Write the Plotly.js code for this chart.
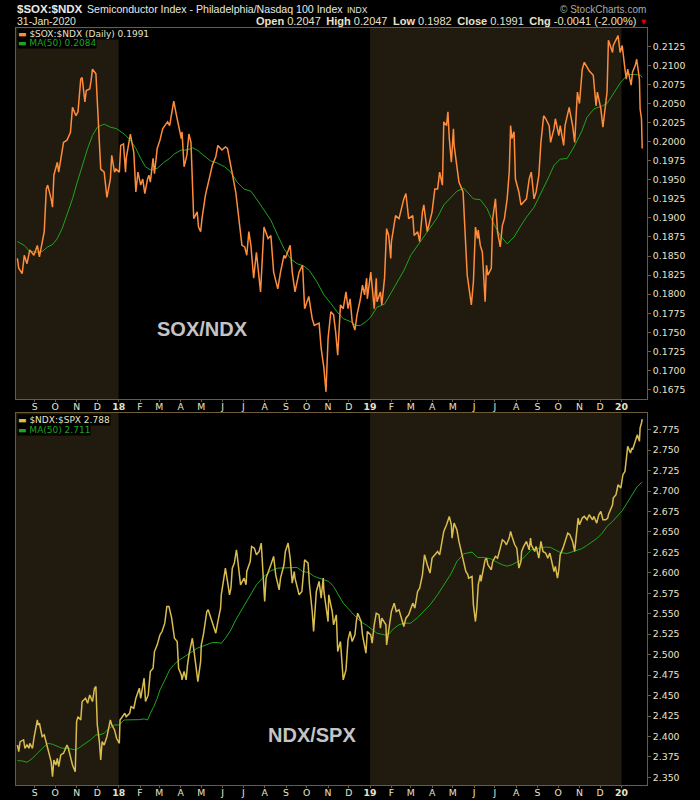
<!DOCTYPE html>
<html>
<head>
<meta charset="utf-8">
<script src="https://cdn.plot.ly/plotly-3.0.1.min.js"></script>
<style>html,body{margin:0;padding:0;background:#000;}#chart{width:700px;height:800px;}</style>
</head>
<body>
<div id="chart"></div>
<script>
// ---------------- DATA ----------------
const soxNdxDates = ["2017-08-07","2017-08-09","2017-08-14","2017-08-17","2017-08-21","2017-08-25","2017-08-31","2017-09-05","2017-09-08","2017-09-12","2017-09-15","2017-09-18","2017-09-20","2017-09-25","2017-09-27","2017-09-29","2017-10-04","2017-10-06","2017-10-09","2017-10-13","2017-10-18","2017-10-23","2017-10-26","2017-10-31","2017-11-03","2017-11-07","2017-11-09","2017-11-13","2017-11-15","2017-11-20","2017-11-22","2017-11-24","2017-11-29","2017-12-01","2017-12-04","2017-12-06","2017-12-11","2017-12-13","2017-12-15","2017-12-20","2017-12-22","2017-12-26","2017-12-28","2018-01-02","2018-01-04","2018-01-08","2018-01-11","2018-01-12","2018-01-18","2018-01-23","2018-01-26","2018-01-29","2018-02-02","2018-02-05","2018-02-08","2018-02-12","2018-02-14","2018-02-16","2018-02-20","2018-02-22","2018-02-26","2018-03-02","2018-03-06","2018-03-09","2018-03-13","2018-03-16","2018-03-22","2018-03-26","2018-03-29","2018-04-02","2018-04-03","2018-04-06","2018-04-10","2018-04-13","2018-04-16","2018-04-20","2018-04-25","2018-04-27","2018-04-30","2018-05-02","2018-05-07","2018-05-11","2018-05-17","2018-05-22","2018-05-25","2018-05-31","2018-06-05","2018-06-08","2018-06-12","2018-06-15","2018-06-20","2018-06-22","2018-06-26","2018-06-29","2018-07-03","2018-07-06","2018-07-09","2018-07-12","2018-07-16","2018-07-19","2018-07-20","2018-07-26","2018-07-30","2018-07-31","2018-08-06","2018-08-10","2018-08-14","2018-08-20","2018-08-24","2018-08-29","2018-08-31","2018-09-07","2018-09-10","2018-09-14","2018-09-20","2018-09-25","2018-09-28","2018-10-04","2018-10-09","2018-10-12","2018-10-19","2018-10-22","2018-10-26","2018-10-29","2018-11-01","2018-11-05","2018-11-09","2018-11-12","2018-11-15","2018-11-19","2018-11-23","2018-11-27","2018-11-30","2018-12-03","2018-12-06","2018-12-10","2018-12-13","2018-12-18","2018-12-21","2018-12-24","2018-12-27","2018-12-28","2019-01-02","2019-01-07","2019-01-10","2019-01-11","2019-01-16","2019-01-18","2019-01-22","2019-01-25","2019-01-28","2019-01-31","2019-02-01","2019-02-05","2019-02-07","2019-02-12","2019-02-15","2019-02-19","2019-02-22","2019-02-26","2019-03-04","2019-03-06","2019-03-11","2019-03-14","2019-03-18","2019-03-20","2019-03-25","2019-03-29","2019-04-01","2019-04-05","2019-04-09","2019-04-12","2019-04-16","2019-04-18","2019-04-22","2019-04-24","2019-04-26","2019-04-29","2019-05-02","2019-05-03","2019-05-07","2019-05-10","2019-05-16","2019-05-20","2019-05-22","2019-05-28","2019-05-31","2019-06-03","2019-06-06","2019-06-07","2019-06-10","2019-06-13","2019-06-17","2019-06-19","2019-06-21","2019-06-26","2019-06-28","2019-07-02","2019-07-05","2019-07-09","2019-07-12","2019-07-15","2019-07-19","2019-07-22","2019-07-24","2019-07-26","2019-07-29","2019-07-31","2019-08-05","2019-08-08","2019-08-12","2019-08-16","2019-08-20","2019-08-23","2019-08-27","2019-08-30","2019-09-03","2019-09-06","2019-09-10","2019-09-13","2019-09-18","2019-09-20","2019-09-25","2019-09-27","2019-10-02","2019-10-04","2019-10-09","2019-10-11","2019-10-17","2019-10-22","2019-10-25","2019-10-29","2019-11-01","2019-11-05","2019-11-08","2019-11-12","2019-11-15","2019-11-21","2019-11-25","2019-11-27","2019-12-02","2019-12-05","2019-12-09","2019-12-11","2019-12-13","2019-12-19","2019-12-20","2019-12-27","2019-12-30","2020-01-02","2020-01-06","2020-01-08","2020-01-10","2020-01-15","2020-01-17","2020-01-21","2020-01-23","2020-01-27","2020-01-28","2020-01-30","2020-01-31"];
const soxNdxValues = [0.1847,0.1834,0.1827,0.1851,0.1840,0.1858,0.1851,0.1864,0.1849,0.1866,0.1882,0.1938,0.1943,0.1925,0.1914,0.1956,0.1973,0.1960,0.1978,0.1999,0.2002,0.2012,0.2045,0.2034,0.2039,0.2082,0.2084,0.2052,0.2067,0.2069,0.2080,0.2095,0.2089,0.2056,0.2004,0.1964,0.1960,0.1947,0.1927,0.1951,0.1982,0.1960,0.1964,0.1960,0.1995,0.1997,0.1960,0.1978,0.2010,0.1986,0.1934,0.1960,0.1943,0.1951,0.1932,0.1951,0.1956,0.1947,0.1978,0.1958,0.1991,0.2002,0.2017,0.2021,0.2026,0.2021,0.2053,0.2034,0.2021,0.2004,0.2013,0.1967,0.1982,0.2010,0.1999,0.1899,0.1908,0.1888,0.1882,0.1899,0.1930,0.1947,0.1969,0.1980,0.1995,0.1989,0.1993,0.1991,0.1969,0.1958,0.1934,0.1917,0.1886,0.1864,0.1862,0.1851,0.1882,0.1864,0.1821,0.1847,0.1855,0.1803,0.1873,0.1888,0.1873,0.1877,0.1829,0.1807,0.1829,0.1851,0.1847,0.1864,0.1829,0.1803,0.1829,0.1838,0.1781,0.1797,0.1768,0.1759,0.1762,0.1729,0.1703,0.1672,0.1742,0.1777,0.1773,0.1751,0.1720,0.1786,0.1781,0.1803,0.1781,0.1794,0.1764,0.1753,0.1773,0.1794,0.1812,0.1799,0.1821,0.1794,0.1829,0.1781,0.1821,0.1790,0.1803,0.1786,0.1821,0.1886,0.1877,0.1847,0.1869,0.1890,0.1903,0.1899,0.1912,0.1925,0.1932,0.1899,0.1903,0.1877,0.1882,0.1869,0.1908,0.1917,0.1882,0.1899,0.1908,0.1938,0.1938,0.1960,0.1943,0.2026,0.2021,0.2039,0.2004,0.1973,0.2017,0.1995,0.1969,0.1947,0.1934,0.1847,0.1825,0.1786,0.1816,0.1888,0.1873,0.1884,0.1864,0.1855,0.1790,0.1838,0.1825,0.1834,0.1899,0.1925,0.1882,0.1862,0.1890,0.1899,0.1925,0.1960,0.2021,0.2004,0.2013,0.1951,0.1934,0.1917,0.1921,0.1925,0.1951,0.1960,0.1925,0.1934,0.1956,0.1999,0.2034,0.2030,0.2021,0.1999,0.2017,0.2030,0.2008,0.2021,0.1995,0.2021,0.2045,0.2021,0.1999,0.2065,0.2050,0.2095,0.2104,0.2098,0.2093,0.2087,0.2047,0.2065,0.2043,0.2019,0.2056,0.2065,0.2133,0.2117,0.2126,0.2139,0.2117,0.2126,0.2095,0.2082,0.2095,0.2074,0.2091,0.2100,0.2108,0.2082,0.2043,0.2030,0.1991];

const soxMaDates = ["2017-08-07","2017-08-17","2017-08-25","2017-09-05","2017-09-12","2017-09-20","2017-09-27","2017-10-04","2017-10-11","2017-10-18","2017-10-26","2017-11-02","2017-11-09","2017-11-17","2017-11-24","2017-12-01","2017-12-11","2017-12-20","2017-12-29","2018-01-09","2018-01-18","2018-01-26","2018-02-02","2018-02-09","2018-02-16","2018-02-26","2018-03-08","2018-03-16","2018-03-23","2018-04-02","2018-04-11","2018-04-18","2018-04-25","2018-05-04","2018-05-14","2018-05-24","2018-06-04","2018-06-13","2018-06-22","2018-07-02","2018-07-12","2018-07-20","2018-07-31","2018-08-10","2018-08-20","2018-08-29","2018-09-07","2018-09-17","2018-09-27","2018-10-05","2018-10-16","2018-10-26","2018-11-05","2018-11-14","2018-11-23","2018-12-04","2018-12-11","2018-12-18","2018-12-26","2019-01-02","2019-01-11","2019-01-22","2019-01-31","2019-02-08","2019-02-19","2019-03-01","2019-03-11","2019-03-20","2019-03-29","2019-04-09","2019-04-18","2019-04-29","2019-05-07","2019-05-17","2019-05-22","2019-05-31","2019-06-10","2019-06-20","2019-06-28","2019-07-09","2019-07-19","2019-07-29","2019-08-08","2019-08-16","2019-08-27","2019-09-06","2019-09-16","2019-09-25","2019-10-04","2019-10-14","2019-10-24","2019-11-04","2019-11-12","2019-11-22","2019-12-02","2019-12-11","2019-12-20","2019-12-31","2020-01-10","2020-01-14","2020-01-21","2020-01-29","2020-01-31"];
const soxMaValues = [0.1869,0.1864,0.1856,0.1855,0.1856,0.1862,0.1865,0.1873,0.1886,0.1903,0.1925,0.1947,0.1969,0.1991,0.2008,0.2019,0.2023,0.2019,0.2017,0.2010,0.2002,0.1991,0.1978,0.1967,0.1963,0.1965,0.1973,0.1978,0.1984,0.1989,0.1989,0.1992,0.1989,0.1982,0.1975,0.1972,0.1967,0.1960,0.1947,0.1938,0.1935,0.1925,0.1910,0.1897,0.1877,0.1860,0.1847,0.1840,0.1837,0.1831,0.1816,0.1799,0.1788,0.1777,0.1768,0.1764,0.1759,0.1759,0.1764,0.1770,0.1783,0.1787,0.1801,0.1814,0.1831,0.1851,0.1864,0.1875,0.1886,0.1901,0.1917,0.1927,0.1935,0.1939,0.1934,0.1925,0.1924,0.1912,0.1895,0.1877,0.1866,0.1875,0.1890,0.1901,0.1914,0.1932,0.1951,0.1969,0.1977,0.1978,0.1993,0.2013,0.2032,0.2043,0.2046,0.2050,0.2063,0.2078,0.2088,0.2088,0.2088,0.2087,0.2084];

const ndxSpxDates = ["2017-08-07","2017-08-09","2017-08-11","2017-08-16","2017-08-18","2017-08-21","2017-08-24","2017-08-25","2017-08-29","2017-08-31","2017-09-05","2017-09-06","2017-09-08","2017-09-12","2017-09-15","2017-09-19","2017-09-22","2017-09-25","2017-09-27","2017-09-29","2017-10-02","2017-10-04","2017-10-06","2017-10-09","2017-10-13","2017-10-18","2017-10-20","2017-10-23","2017-10-26","2017-10-30","2017-11-01","2017-11-03","2017-11-07","2017-11-09","2017-11-14","2017-11-17","2017-11-20","2017-11-24","2017-11-27","2017-11-29","2017-12-01","2017-12-04","2017-12-06","2017-12-08","2017-12-11","2017-12-15","2017-12-18","2017-12-20","2017-12-22","2017-12-26","2017-12-29","2018-01-02","2018-01-03","2018-01-05","2018-01-10","2018-01-12","2018-01-17","2018-01-19","2018-01-23","2018-01-26","2018-01-31","2018-02-02","2018-02-07","2018-02-09","2018-02-13","2018-02-16","2018-02-20","2018-02-22","2018-02-26","2018-03-02","2018-03-05","2018-03-09","2018-03-12","2018-03-15","2018-03-19","2018-03-21","2018-03-23","2018-03-27","2018-03-29","2018-04-02","2018-04-03","2018-04-06","2018-04-09","2018-04-11","2018-04-13","2018-04-18","2018-04-20","2018-04-23","2018-04-26","2018-04-30","2018-05-01","2018-05-04","2018-05-09","2018-05-11","2018-05-15","2018-05-18","2018-05-22","2018-05-25","2018-05-29","2018-05-30","2018-06-01","2018-06-05","2018-06-08","2018-06-11","2018-06-13","2018-06-15","2018-06-18","2018-06-21","2018-06-22","2018-06-26","2018-06-27","2018-07-02","2018-07-05","2018-07-06","2018-07-11","2018-07-13","2018-07-17","2018-07-20","2018-07-24","2018-07-27","2018-07-30","2018-08-01","2018-08-03","2018-08-07","2018-08-10","2018-08-14","2018-08-17","2018-08-22","2018-08-24","2018-08-29","2018-08-31","2018-09-04","2018-09-07","2018-09-10","2018-09-13","2018-09-14","2018-09-20","2018-09-24","2018-09-26","2018-09-28","2018-10-03","2018-10-05","2018-10-09","2018-10-11","2018-10-15","2018-10-19","2018-10-22","2018-10-25","2018-10-26","2018-11-01","2018-11-02","2018-11-07","2018-11-09","2018-11-13","2018-11-15","2018-11-19","2018-11-23","2018-11-27","2018-11-30","2018-12-03","2018-12-06","2018-12-10","2018-12-12","2018-12-14","2018-12-19","2018-12-21","2018-12-26","2018-12-28","2019-01-02","2019-01-04","2019-01-07","2019-01-10","2019-01-14","2019-01-16","2019-01-18","2019-01-24","2019-01-25","2019-01-30","2019-02-01","2019-02-05","2019-02-08","2019-02-12","2019-02-15","2019-02-19","2019-02-22","2019-02-26","2019-03-04","2019-03-07","2019-03-11","2019-03-14","2019-03-18","2019-03-21","2019-03-25","2019-03-29","2019-04-01","2019-04-05","2019-04-09","2019-04-12","2019-04-16","2019-04-18","2019-04-22","2019-04-26","2019-04-29","2019-04-30","2019-05-03","2019-05-07","2019-05-10","2019-05-13","2019-05-16","2019-05-20","2019-05-23","2019-05-24","2019-05-29","2019-05-31","2019-06-03","2019-06-05","2019-06-07","2019-06-10","2019-06-11","2019-06-14","2019-06-17","2019-06-19","2019-06-21","2019-06-26","2019-06-28","2019-07-02","2019-07-05","2019-07-09","2019-07-12","2019-07-15","2019-07-18","2019-07-22","2019-07-24","2019-07-26","2019-07-30","2019-08-02","2019-08-05","2019-08-08","2019-08-09","2019-08-12","2019-08-16","2019-08-20","2019-08-22","2019-08-23","2019-08-28","2019-08-30","2019-09-03","2019-09-06","2019-09-09","2019-09-13","2019-09-16","2019-09-19","2019-09-23","2019-09-25","2019-09-27","2019-09-30","2019-10-02","2019-10-04","2019-10-08","2019-10-11","2019-10-15","2019-10-18","2019-10-22","2019-10-25","2019-10-28","2019-10-30","2019-11-01","2019-11-05","2019-11-08","2019-11-12","2019-11-15","2019-11-20","2019-11-22","2019-11-26","2019-11-29","2019-12-02","2019-12-05","2019-12-09","2019-12-12","2019-12-13","2019-12-19","2019-12-20","2019-12-24","2019-12-27","2019-12-31","2020-01-03","2020-01-06","2020-01-08","2020-01-10","2020-01-14","2020-01-16","2020-01-17","2020-01-21","2020-01-24","2020-01-27","2020-01-28","2020-01-30","2020-01-31"];
const ndxSpxValues = [2.3896,2.3815,2.3937,2.3958,2.3856,2.3896,2.3856,2.3917,2.3856,2.3978,2.4202,2.4141,2.4162,2.3998,2.4019,2.3896,2.3774,2.3692,2.3509,2.3713,2.3652,2.3733,2.3631,2.3774,2.3795,2.3896,2.3856,2.3754,2.3652,2.3570,2.4182,2.4243,2.4202,2.4427,2.4467,2.4406,2.4508,2.4427,2.4590,2.4610,2.4141,2.3937,2.3713,2.3937,2.3896,2.3998,2.4100,2.4202,2.4141,2.4080,2.3978,2.3917,2.4202,2.4223,2.4284,2.4243,2.4284,2.4365,2.4345,2.4467,2.4590,2.4467,2.4712,2.4427,2.4508,2.4794,2.4834,2.5038,2.5120,2.5242,2.5283,2.5385,2.5589,2.5589,2.5446,2.5324,2.5201,2.5161,2.4834,2.4753,2.4692,2.4794,2.4692,2.4875,2.4997,2.5201,2.5038,2.4875,2.4671,2.4916,2.5120,2.5242,2.5528,2.5548,2.5446,2.5365,2.5263,2.5405,2.5569,2.5732,2.5834,2.6058,2.5895,2.5732,2.5813,2.6058,2.6119,2.6282,2.6221,2.5895,2.5854,2.5936,2.5854,2.6017,2.6139,2.6323,2.6302,2.6221,2.6262,2.6364,2.5936,2.5650,2.5936,2.6017,2.6099,2.6201,2.5976,2.5793,2.5936,2.6099,2.6262,2.6364,2.6180,2.5874,2.6017,2.5936,2.5732,2.5773,2.5936,2.6160,2.6119,2.5854,2.5528,2.5283,2.5773,2.5895,2.5691,2.5936,2.5773,2.5405,2.5732,2.5528,2.5365,2.5487,2.5038,2.5161,2.4692,2.4814,2.5181,2.5283,2.5161,2.5242,2.5405,2.5507,2.5405,2.5242,2.5018,2.5283,2.5242,2.5140,2.5365,2.5507,2.5487,2.5324,2.5446,2.5365,2.5120,2.5405,2.5528,2.5630,2.5528,2.5548,2.5446,2.5344,2.5446,2.5487,2.5630,2.5569,2.5773,2.5813,2.5976,2.6221,2.6099,2.5997,2.6180,2.6221,2.6262,2.6221,2.6384,2.6506,2.6588,2.6690,2.6588,2.6425,2.6608,2.6527,2.6384,2.6262,2.6139,2.6017,2.5976,2.5936,2.5956,2.5609,2.5405,2.5569,2.5854,2.5976,2.5895,2.6017,2.6160,2.6180,2.6099,2.6038,2.6139,2.6201,2.6180,2.6302,2.6405,2.6384,2.6343,2.6425,2.6506,2.6445,2.6343,2.6302,2.6058,2.6139,2.6262,2.6323,2.6384,2.6282,2.6425,2.6343,2.6262,2.6323,2.6180,2.6384,2.6262,2.6241,2.6180,2.6241,2.6099,2.6017,2.6078,2.5936,2.6038,2.6221,2.6302,2.6384,2.6486,2.6466,2.6384,2.6262,2.6506,2.6670,2.6588,2.6670,2.6690,2.6649,2.6710,2.6649,2.6690,2.6608,2.6710,2.6751,2.6649,2.6649,2.6670,2.6710,2.6833,2.6914,2.6955,2.7077,2.7036,2.7200,2.7240,2.7404,2.7546,2.7465,2.7526,2.7505,2.7607,2.7689,2.7607,2.7771,2.7832,2.7880];

const ndxMaDates = ["2017-08-07","2017-08-14","2017-08-21","2017-08-29","2017-09-05","2017-09-12","2017-09-20","2017-09-27","2017-10-04","2017-10-11","2017-10-18","2017-10-26","2017-10-31","2017-11-07","2017-11-14","2017-11-21","2017-11-29","2017-12-04","2017-12-11","2017-12-18","2017-12-26","2018-01-02","2018-01-09","2018-01-16","2018-01-23","2018-01-31","2018-02-07","2018-02-12","2018-02-16","2018-02-21","2018-02-26","2018-03-02","2018-03-08","2018-03-13","2018-03-16","2018-03-22","2018-03-27","2018-04-03","2018-04-11","2018-04-18","2018-04-25","2018-05-02","2018-05-10","2018-05-17","2018-05-24","2018-05-30","2018-06-05","2018-06-13","2018-06-20","2018-06-27","2018-07-02","2018-07-12","2018-07-20","2018-07-31","2018-08-10","2018-08-20","2018-08-29","2018-09-07","2018-09-17","2018-09-25","2018-10-04","2018-10-12","2018-10-24","2018-11-02","2018-11-09","2018-11-16","2018-11-23","2018-12-04","2018-12-11","2018-12-18","2018-12-26","2019-01-02","2019-01-11","2019-01-22","2019-01-28","2019-02-05","2019-02-12","2019-02-19","2019-03-01","2019-03-11","2019-03-20","2019-03-29","2019-04-09","2019-04-18","2019-04-29","2019-05-07","2019-05-17","2019-05-29","2019-06-06","2019-06-14","2019-06-25","2019-07-05","2019-07-12","2019-07-19","2019-07-26","2019-08-02","2019-08-09","2019-08-16","2019-08-23","2019-09-03","2019-09-13","2019-09-20","2019-09-27","2019-10-04","2019-10-14","2019-10-24","2019-11-04","2019-11-11","2019-11-18","2019-11-27","2019-12-04","2019-12-11","2019-12-19","2019-12-26","2020-01-02","2020-01-09","2020-01-16","2020-01-24","2020-01-31"];
const ndxMaValues = [2.3705,2.3701,2.3685,2.3733,2.3795,2.3856,2.3917,2.3905,2.3876,2.3856,2.3856,2.3848,2.3835,2.3876,2.3917,2.3958,2.4019,2.4019,2.4039,2.4100,2.4141,2.4141,2.4202,2.4202,2.4202,2.4206,2.4215,2.4202,2.4284,2.4365,2.4467,2.4569,2.4671,2.4753,2.4814,2.4875,2.4916,2.4957,2.4997,2.5038,2.5079,2.5099,2.5128,2.5148,2.5148,2.5140,2.5201,2.5303,2.5426,2.5528,2.5589,2.5732,2.5854,2.5956,2.6025,2.6058,2.6058,2.6066,2.6066,2.6017,2.6005,2.5956,2.5923,2.5895,2.5834,2.5732,2.5630,2.5528,2.5466,2.5405,2.5365,2.5316,2.5263,2.5242,2.5250,2.5324,2.5365,2.5385,2.5385,2.5454,2.5536,2.5609,2.5732,2.5854,2.5997,2.6139,2.6233,2.6254,2.6188,2.6188,2.6172,2.6127,2.6099,2.6082,2.6099,2.6131,2.6160,2.6221,2.6282,2.6302,2.6315,2.6311,2.6282,2.6249,2.6237,2.6262,2.6294,2.6331,2.6376,2.6425,2.6486,2.6568,2.6629,2.6690,2.6759,2.6853,2.6955,2.7057,2.7110];

const monthTicks = ["2017-09-01","2017-10-01","2017-11-01","2017-12-01","2018-01-01","2018-02-01","2018-03-01","2018-04-01","2018-05-01","2018-06-01","2018-07-01","2018-08-01","2018-09-01","2018-10-01","2018-11-01","2018-12-01","2019-01-01","2019-02-01","2019-03-01","2019-04-01","2019-05-01","2019-06-01","2019-07-01","2019-08-01","2019-09-01","2019-10-01","2019-11-01","2019-12-01","2020-01-01"];
const monthLabels = ["S","O","N","D","<b>18</b>","F","M","A","M","J","J","A","S","O","N","D","<b>19</b>","F","M","A","M","J","J","A","S","O","N","D","<b>20</b>"];
const shadedYears = [["2017-08-05","2018-01-01"],["2019-01-01","2020-01-01"]];

// ---------------- LAYOUT ----------------
const W = 700, H = 800;
const px = x => x / W;
const py = y => 1 - y / H;
const xRange = ["2017-08-05", "2020-02-07"];
const FRAME = "#6e5b38", SHADE = "#211a0e", TXT = "#e9e2c8";
const ORANGE = "#ff8c3c", GOLD = "#d9bd4e", GREEN = "#1fa51f";
const tickFont = {family: "DejaVu Sans, Verdana, sans-serif", size: 9.3, color: TXT};

function xAxis(anchor) {
  return {
    type: "date", domain: [px(16), px(647)], range: xRange, anchor: anchor,
    tickmode: "array", tickvals: monthTicks, ticktext: monthLabels,
    tickfont: tickFont, ticks: "outside", ticklen: 2, tickcolor: FRAME,
    ticklabelstandoff: -3,
    showline: true, mirror: true, linecolor: FRAME, linewidth: 1,
    showgrid: false, zeroline: false, fixedrange: true
  };
}
function yAxis(anchor, dom, rng, dtick, tick0, fmt) {
  return {
    domain: dom, range: rng, anchor: anchor, side: "right",
    dtick: dtick, tick0: tick0, tickformat: fmt,
    tickfont: tickFont, ticks: "outside", ticklen: 3, tickcolor: FRAME,
    showline: true, mirror: true, linecolor: FRAME, linewidth: 1,
    showgrid: false, zeroline: false, fixedrange: true
  };
}

const shapes = [];
[["x", "y domain"], ["x2", "y2 domain"]].forEach(([xr, yr]) => {
  shadedYears.forEach(([a, b]) => shapes.push({
    type: "rect", xref: xr, yref: yr, x0: a, x1: b, y0: 0, y1: 1,
    fillcolor: SHADE, line: {width: 0}, layer: "below"
  }));
});

const LF = "Liberation Sans, Arial, sans-serif";
const DF = "DejaVu Sans, Verdana, sans-serif";
function ann(x, y, text, opt) {
  return Object.assign({xref: "paper", yref: "paper", x: px(x), y: py(y), text: text,
    showarrow: false, xanchor: "left", yanchor: "middle", borderpad: 0}, opt || {});
}
const annotations = [
  ann(16, 9.5, "<b>$SOX:$NDX</b>", {font: {family: LF, size: 11.5, color: "#e8e8e4"}}),
  ann(86, 9.5, "Semiconductor Index - Philadelphia/Nasdaq 100 Index", {font: {family: LF, size: 10.6, color: "#e8e8e4"}}),
  ann(346, 10, "INDX", {font: {family: LF, size: 8.5, color: "#e8e8e4"}}),
  ann(647, 9.5, "© StockCharts.com", {xanchor: "right", font: {family: LF, size: 10, color: "#aaaaaa"}}),
  ann(16, 21.5, "31-Jan-2020", {font: {family: LF, size: 10.5, color: TXT}}),
  ann(637, 21.5, "<b>Open</b> 0.2047\u2002<b>High</b> 0.2047\u2002<b>Low</b> 0.1982\u2002<b>Close</b> 0.1991\u2002<b>Chg</b> -0.0041 (-2.00%)",
      {xanchor: "right", font: {family: LF, size: 11, color: TXT}}),
  ann(643, 22, "▼", {xanchor: "center", font: {family: DF, size: 6.5, color: "#e00000"}}),
  ann(17, 33.5, '<span style="color:' + ORANGE + '">▬</span> $SOX:$NDX (Daily) 0.1991', {bgcolor: "#000", font: {family: DF, size: 9, color: TXT}}),
  ann(17, 43.5, "▬ MA(50) 0.2084", {bgcolor: "#000", font: {family: DF, size: 9, color: GREEN}}),
  ann(17, 419.5, '<span style="color:' + GOLD + '">▬</span> $NDX:$SPX 2.788', {bgcolor: "#000", font: {family: DF, size: 9, color: TXT}}),
  ann(17, 429.5, "▬ MA(50) 2.711", {bgcolor: "#000", font: {family: DF, size: 9, color: GREEN}}),
  ann(202.5, 329, "<b>SOX/NDX</b>", {xanchor: "center", font: {family: LF, size: 20, color: "#c4c4c4"}}),
  ann(311.5, 735, "<b>NDX/SPX</b>", {xanchor: "center", font: {family: LF, size: 20, color: "#c4c4c4"}})
];

const traces = [
  {x: soxMaDates, y: soxMaValues, xaxis: "x", yaxis: "y", type: "scatter", mode: "lines",
   line: {color: GREEN, width: 1}, hoverinfo: "skip"},
  {x: soxNdxDates, y: soxNdxValues, xaxis: "x", yaxis: "y", type: "scatter", mode: "lines",
   line: {color: ORANGE, width: 1.5}, hoverinfo: "skip"},
  {x: ndxMaDates, y: ndxMaValues, xaxis: "x2", yaxis: "y2", type: "scatter", mode: "lines",
   line: {color: GREEN, width: 1}, hoverinfo: "skip"},
  {x: ndxSpxDates, y: ndxSpxValues, xaxis: "x2", yaxis: "y2", type: "scatter", mode: "lines",
   line: {color: GOLD, width: 1.5}, hoverinfo: "skip"}
];

const layout = {
  width: W, height: H, margin: {l: 0, r: 0, t: 0, b: 0},
  paper_bgcolor: "#000", plot_bgcolor: "#000", showlegend: false,
  xaxis: xAxis("y"),
  yaxis: yAxis("x", [py(399), py(28)], [0.16626, 0.2149], 0.0025, 0.1675, ".4f"),
  xaxis2: xAxis("y2"),
  yaxis2: yAxis("x2", [py(785), py(413)], [2.3407, 2.7954], 0.025, 2.35, ".3f"),
  shapes: shapes, annotations: annotations, hovermode: false
};

Plotly.newPlot("chart", traces, layout, {staticPlot: true, displayModeBar: false});
</script>
</body>
</html>
